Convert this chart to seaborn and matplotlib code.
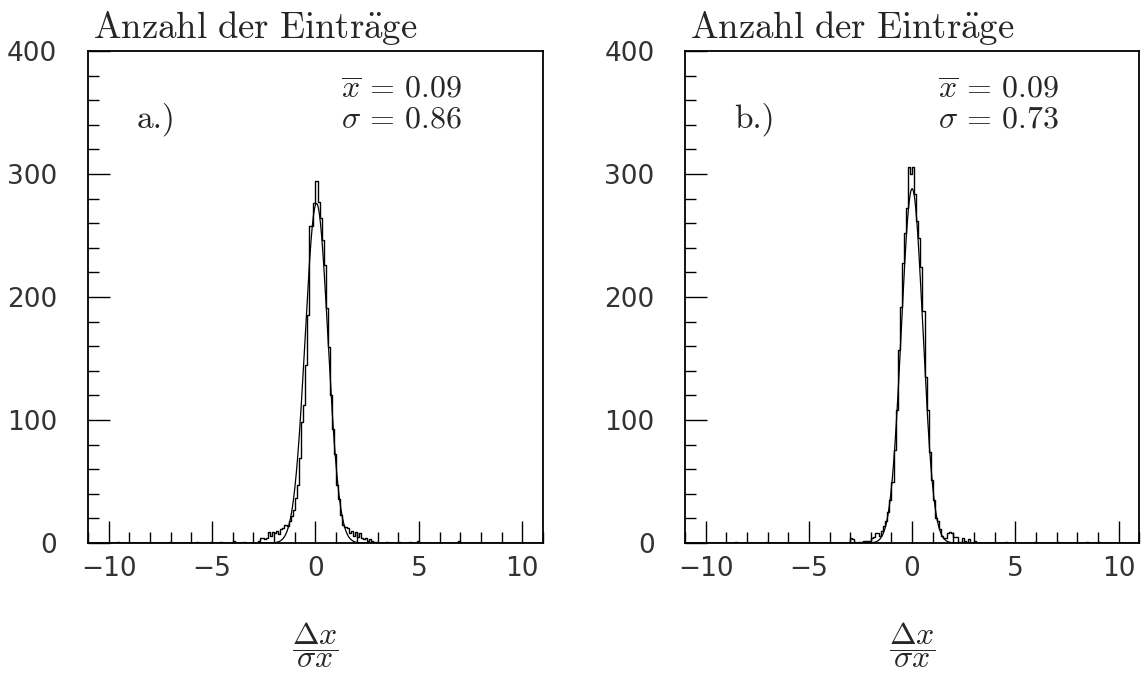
import numpy as np
import pandas as pd
import matplotlib.pyplot as plt
from matplotlib.ticker import MultipleLocator
import seaborn as sns

# histogram binning: width 0.1 over the full x range
bin_width = 0.1
bin_range = (-11.0, 11.0)

# panel a.) - counts of the central bins, left edges from -3.0 in steps of 0.1
core_left_a = np.round(np.arange(-3.0, 3.0, 0.1), 2)
counts_a = [0, 0, 2, 4, 4, 3, 4, 9, 6, 9,
            8, 10, 7, 11, 12, 15, 14, 18, 22, 27,
            37, 47, 69, 98, 112, 145, 185, 258, 258, 276,
            294, 277, 264, 246, 226, 191, 159, 120, 93, 72,
            47, 36, 23, 15, 13, 12, 8, 10, 6, 9,
            5, 8, 4, 3, 4, 2, 3, 2, 1, 1]
# isolated entries far from the peak
outlier_x_a = [-9.55, -7.05, -5.75, -5.05, -4.55, -3.95, -3.45, 3.45, 4.05, 4.55, 4.95, 6.95]
outlier_n_a = [1, 1, 1, 1, 1, 2, 1, 1, 1, 1, 2, 2]
fit_a = (276, 0.05, 0.55)   # amplitude, mean, sigma of the fitted gaussian

# panel b.)
core_left_b = np.round(np.arange(-3.1, 3.1, 0.1), 2)
counts_b = [1, 4, 3, 1, 0, 1, 1, 2, 2, 2,
            2, 4, 5, 8, 8, 6, 10, 14, 18, 25,
            35, 50, 76, 108, 157, 192, 228, 252, 272, 306,
            300, 306, 284, 262, 248, 224, 189, 135, 108, 74,
            51, 35, 20, 18, 11, 6, 4, 4, 8, 9,
            8, 5, 5, 1, 1, 4, 2, 0, 3, 0,
            0, 2]
outlier_x_b = [-8.55, -7.05, 4.55, 5.95, 7.05, 8.45, 9.05]
outlier_n_b = [1, 1, 1, 1, 1, 1, 1]
fit_b = (288, 0.0, 0.52)

panels = [
    ("a.)", core_left_a, counts_a, outlier_x_a, outlier_n_a, fit_a, "0.09", "0.86"),
    ("b.)", core_left_b, counts_b, outlier_x_b, outlier_n_b, fit_b, "0.09", "0.73"),
]

sns.set_style("white")
plt.rcParams["font.family"] = ["DejaVu Sans"]
plt.rcParams["mathtext.fontset"] = "cm"

fig = plt.figure(figsize=(11.41, 6.76), dpi=100)
positions = [[0.0771, 0.1967, 0.3988, 0.728], [0.6004, 0.1967, 0.398, 0.728]]

for pos, (tag, core_left, counts, ox, on, fit, mean, sigma) in zip(positions, panels):
    ax = fig.add_axes(pos)
    df = pd.DataFrame({
        "x": np.concatenate([core_left + 0.05, ox]),
        "n": np.concatenate([counts, on]).astype(float),
    })
    sns.histplot(data=df, x="x", weights="n", binwidth=bin_width, binrange=bin_range,
                 element="step", fill=False, color="black", linewidth=1.0, ax=ax)

    amp, mu, sig = fit
    xs = np.linspace(-11, 11, 2000)
    sns.lineplot(x=xs, y=amp * np.exp(-0.5 * ((xs - mu) / sig) ** 2),
                 color="black", linewidth=0.9, ax=ax)

    ax.set_xlim(-11, 11)
    ax.set_ylim(0, 400)
    ax.set_xticks([-10, -5, 0, 5, 10])
    ax.xaxis.set_minor_locator(MultipleLocator(1))
    ax.set_yticks([0, 100, 200, 300, 400])
    ax.yaxis.set_minor_locator(MultipleLocator(20))
    ax.tick_params(which="both", direction="in", top=False, right=False,
                   bottom=True, left=True, colors="black", width=1.0)
    ax.tick_params(which="major", length=16, labelsize=19, labelcolor="#333333")
    ax.tick_params(which="minor", length=8)
    ax.tick_params(axis="y", pad=22)
    ax.tick_params(axis="x", pad=9)
    for sp in ax.spines.values():
        sp.set_visible(True)
        sp.set_color("black")
        sp.set_linewidth(1.3)
    ax.set_xlabel("")
    ax.set_ylabel("")

    ax.text(0.01, 1.026, r"$\mathrm{Anzahl\ der\ Eintr\ddot{a}ge}$", transform=ax.transAxes,
            fontsize=26.5, va="baseline", ha="left")
    ax.text(0.108, 0.845, tag, family="cmr10", transform=ax.transAxes,
            fontsize=24, va="baseline", ha="left")
    ax.text(0.556, 0.906, r"$\overline{x}\,=\,%s$" % mean, transform=ax.transAxes,
            fontsize=23, va="baseline", ha="left")
    ax.text(0.556, 0.845, r"$\sigma\,=\,%s$" % sigma, transform=ax.transAxes,
            fontsize=23, va="baseline", ha="left")
    ax.text(0.5, -0.208, r"$\dfrac{\Delta x}{\sigma x}$", transform=ax.transAxes,
            fontsize=23, va="center", ha="center")

fig.savefig("out.png", dpi=100)
